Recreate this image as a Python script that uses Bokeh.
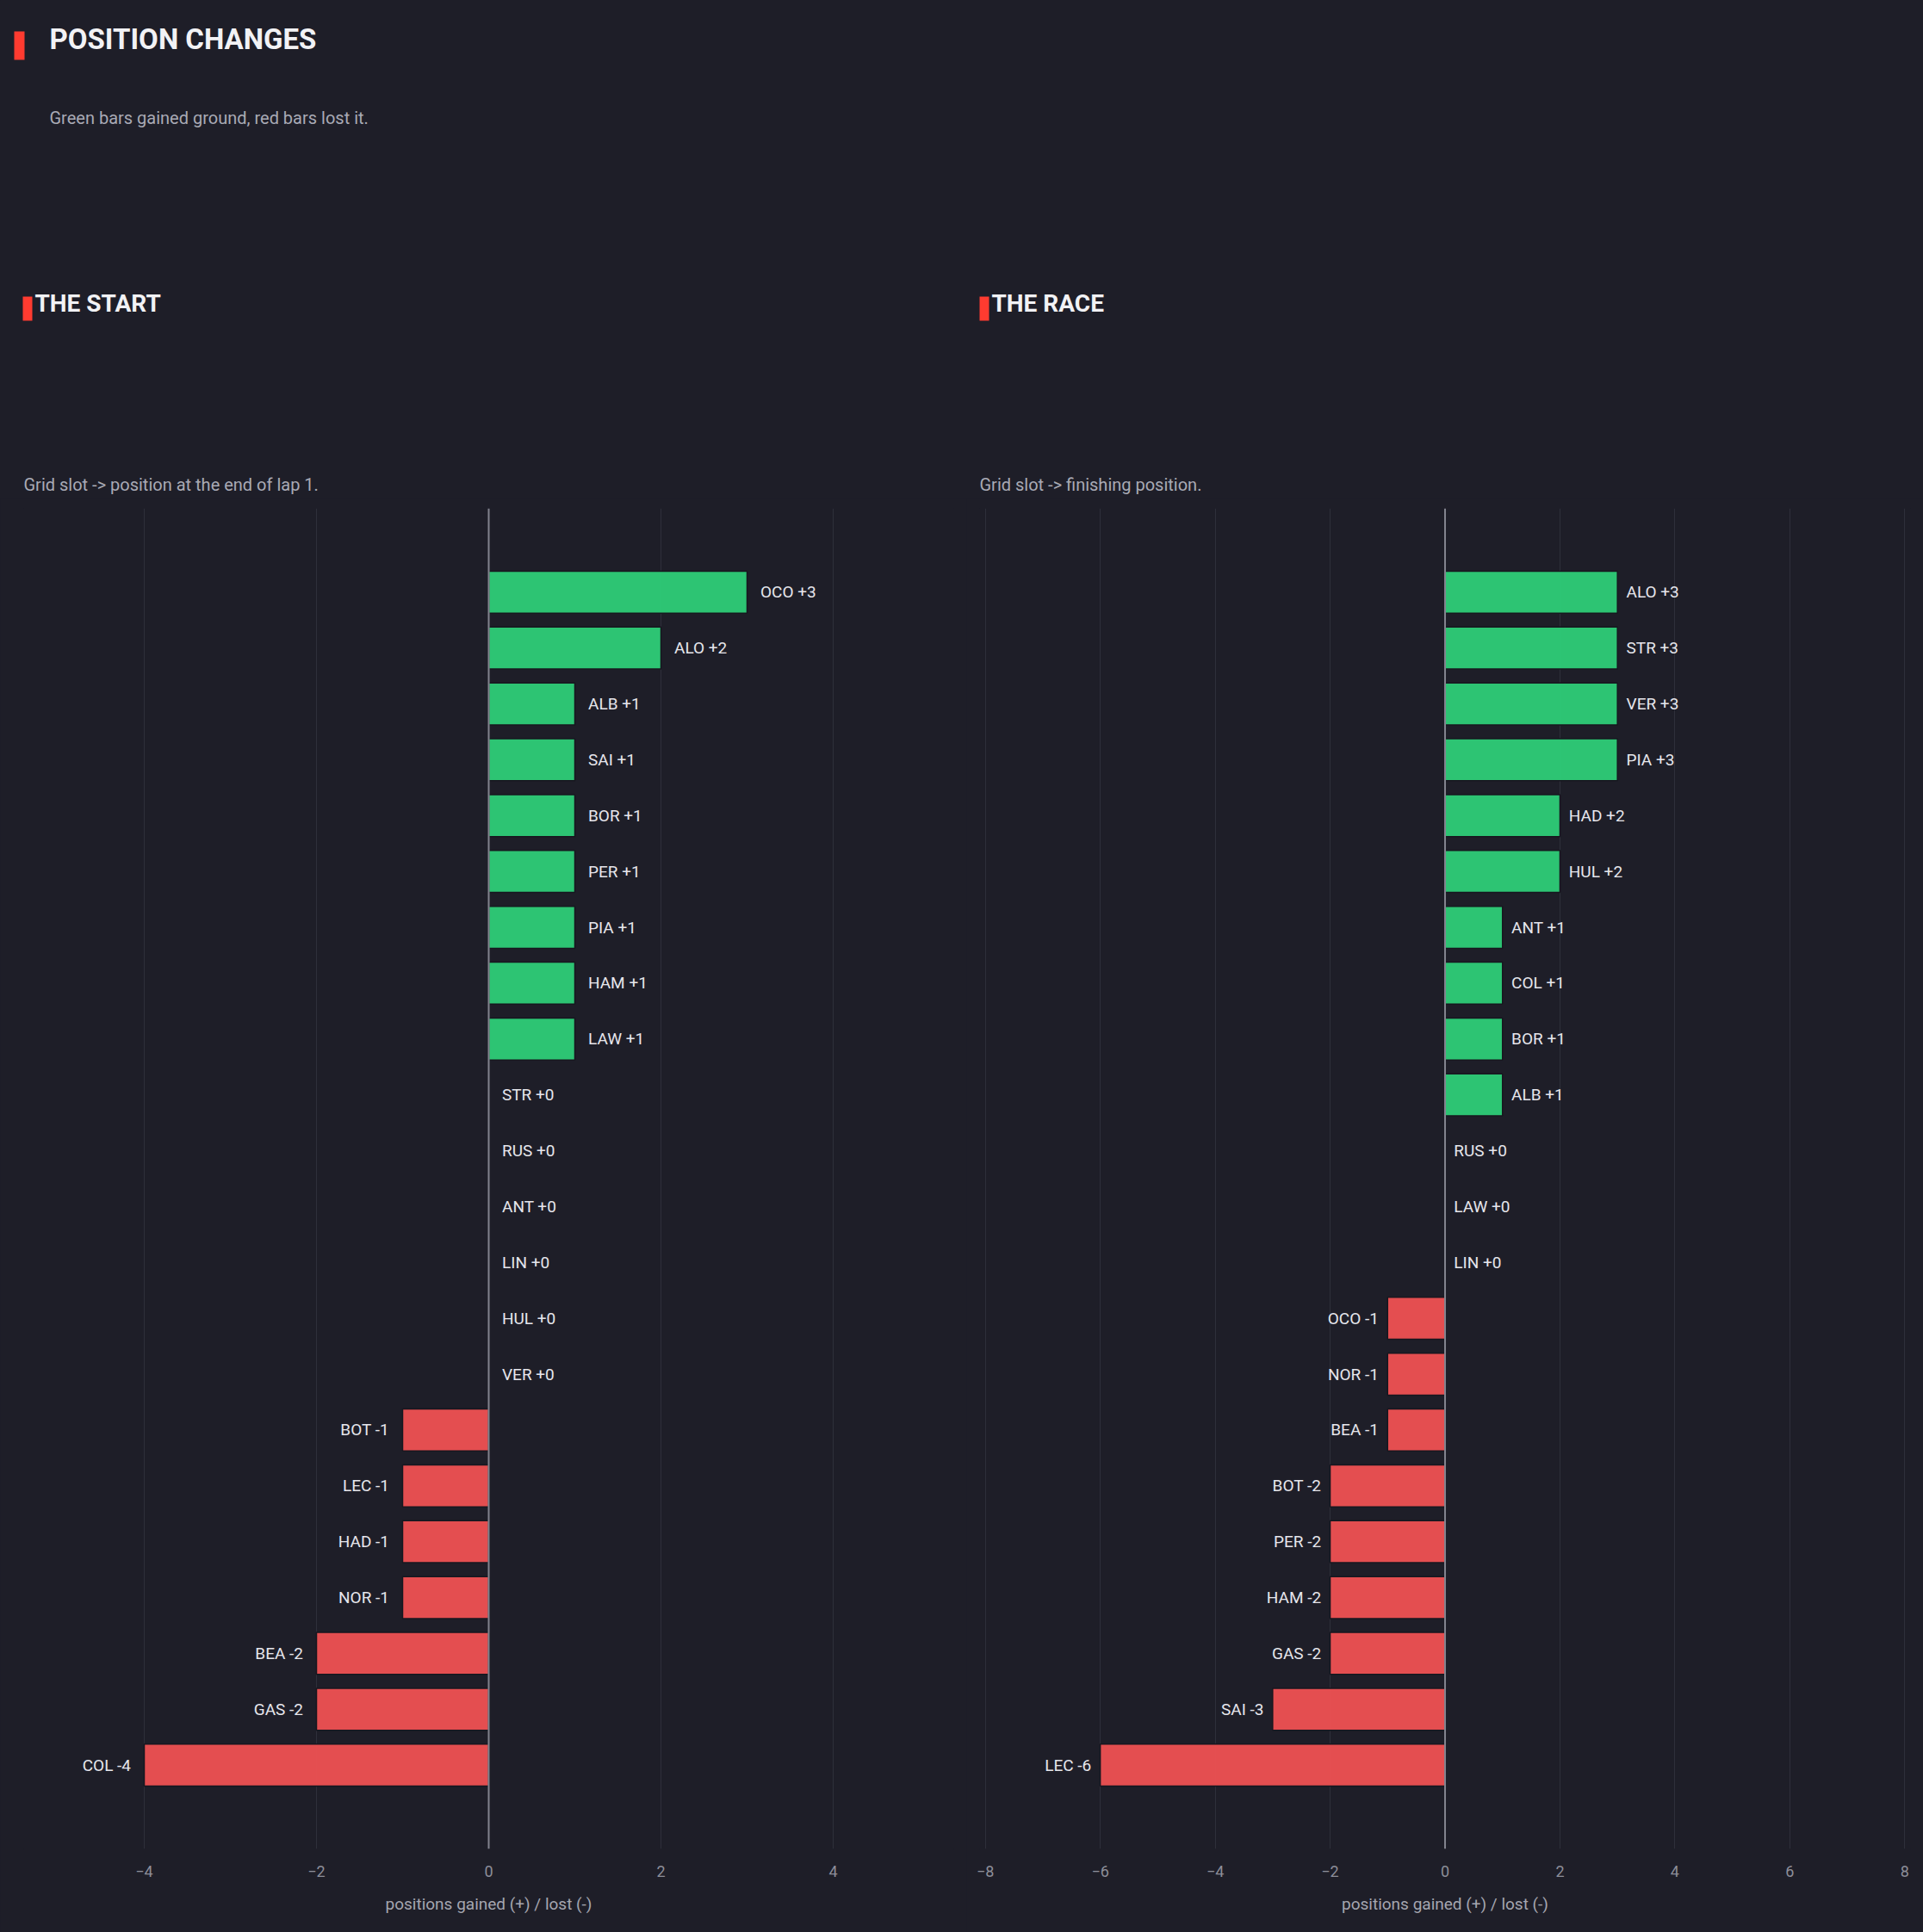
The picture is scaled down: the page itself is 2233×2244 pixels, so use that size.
from bokeh.plotting import figure
from bokeh.layouts import column, row
from bokeh.models import ColumnDataSource, Range1d, Span, SingleIntervalTicker
from bokeh.core.properties import value
from bokeh.embed import file_html
from bokeh.resources import INLINE

# ---- data ---------------------------------------------------------------
start_codes = ["OCO", "ALO", "ALB", "SAI", "BOR", "PER", "PIA", "HAM", "LAW", "STR", "RUS",
               "ANT", "LIN", "HUL", "VER", "BOT", "LEC", "HAD", "NOR", "BEA", "GAS", "COL"]
start_delta = [3, 2, 1, 1, 1, 1, 1, 1, 1, 0, 0, 0, 0, 0, 0, -1, -1, -1, -1, -2, -2, -4]

race_codes = ["ALO", "STR", "VER", "PIA", "HAD", "HUL", "ANT", "COL", "BOR", "ALB", "RUS",
              "LAW", "LIN", "OCO", "NOR", "BEA", "BOT", "PER", "HAM", "GAS", "SAI", "LEC"]
race_delta = [3, 3, 3, 3, 2, 2, 1, 1, 1, 1, 0, 0, 0, -1, -1, -1, -2, -2, -2, -2, -3, -6]

# ---- style --------------------------------------------------------------
BG = "#1e1e28"
GRID = "#2e2f3a"
ZERO = "#82838e"
GAIN = "#2ecb77"
LOSS = "#ec5052"
ACCENT = "#ff3b30"
FONT = "Roboto"
W, H = 2233, 2244
HEAD_H = 578


def panel(codes, deltas, frame_w, border_l, border_r):
    n = len(codes)
    span = max(abs(d) for d in deltas) * 1.35
    ys = [n - 1 - i for i in range(n)]

    p = figure(frame_width=frame_w, frame_height=1557,
               x_range=Range1d(-span, span), y_range=Range1d(-1.5, n + 0.5),
               output_backend="svg", toolbar_location=None, y_axis_location=None,
               min_border_left=border_l, min_border_right=border_r,
               min_border_top=12, min_border_bottom=97,
               background_fill_color=BG, border_fill_color=BG, outline_line_color=None)

    bars = ColumnDataSource(dict(
        y=[y for y, d in zip(ys, deltas) if d != 0],
        d=[d for d in deltas if d != 0],
        c=[GAIN if d > 0 else LOSS for d in deltas if d != 0],
    ))
    p.hbar(y="y", left=0, right="d", height=0.75, source=bars,
           fill_color="c", fill_alpha=0.96, line_color="#17171f", line_width=1.5)

    pad = 0.155
    labels = ColumnDataSource(dict(
        y=ys,
        x=[d + pad if d >= 0 else d - pad for d in deltas],
        t=[f"{c} {d:+d}" for c, d in zip(codes, deltas)],
        a=["left" if d >= 0 else "right" for d in deltas],
    ))
    p.text(x="x", y="y", text="t", text_align="a", text_baseline="middle",
           source=labels, text_font=value(FONT), text_font_size="19px",
           text_color="#e6e6ec")

    p.add_layout(Span(location=0, dimension="height", line_color=ZERO, line_width=2))

    p.xaxis.ticker = SingleIntervalTicker(interval=2)
    p.xaxis.axis_line_color = None
    p.xaxis.major_tick_line_color = None
    p.xaxis.minor_tick_line_color = None
    p.xaxis.major_tick_out = 0
    p.xaxis.major_tick_in = 0
    p.xaxis.major_label_standoff = 15
    p.xaxis.major_label_text_font = FONT
    p.xaxis.major_label_text_font_size = "18px"
    p.xaxis.major_label_text_color = "#8d8e99"
    p.xaxis.axis_label = "positions gained (+) / lost (-)"
    p.xaxis.axis_label_standoff = 17
    p.xaxis.axis_label_text_font = FONT
    p.xaxis.axis_label_text_font_size = "19px"
    p.xaxis.axis_label_text_font_style = "normal"
    p.xaxis.axis_label_text_color = "#a5a6b0"

    p.xgrid.grid_line_color = GRID
    p.xgrid.grid_line_width = 1
    p.ygrid.grid_line_color = None
    return p


# ---- header: titles and captions, drawn in pixel space ---------------------
head = figure(width=W, height=HEAD_H, x_range=Range1d(0, W), y_range=Range1d(HEAD_H, 0),
              output_backend="svg", toolbar_location=None,
              x_axis_location=None, y_axis_location=None,
              min_border=0, background_fill_color=BG, border_fill_color=BG,
              outline_line_color=None)
head.xgrid.grid_line_color = None
head.ygrid.grid_line_color = None

head.quad(left=[16, 26, 1137], right=[28, 37, 1148], top=[36, 344, 344], bottom=[69, 372, 372],
          fill_color=ACCENT, line_color=None)

head.text(x=[57], y=[45], text=["POSITION CHANGES"], text_font=value(FONT),
          text_font_size="33px", text_font_style="bold", text_color="#f2f2f5",
          text_baseline="alphabetic")
head.text(x=[57], y=[136], text=["Green bars gained ground, red bars lost it."],
          text_font=value(FONT), text_font_size="20px", text_color="#a9aab5",
          text_baseline="alphabetic")
head.text(x=[40, 1151], y=[352, 352], text=["THE START", "THE RACE"], text_font=value(FONT),
          text_font_size="28px", text_font_style="bold", text_color="#f2f2f5",
          text_baseline="alphabetic")
head.text(x=[27, 1137], y=[562, 562],
          text=["Grid slot -> position at the end of lap 1.", "Grid slot -> finishing position."],
          text_font=value(FONT), text_font_size="20px", text_color="#a9aab5",
          text_baseline="alphabetic")

left = panel(start_codes, start_delta, 1080, 27, 15)
right = panel(race_codes, race_delta, 1081, 15, 15)

layout = column(head, row(left, right, spacing=0), spacing=0,
                styles={"background-color": BG})

open("out.html", "w").write(file_html(layout, INLINE))
